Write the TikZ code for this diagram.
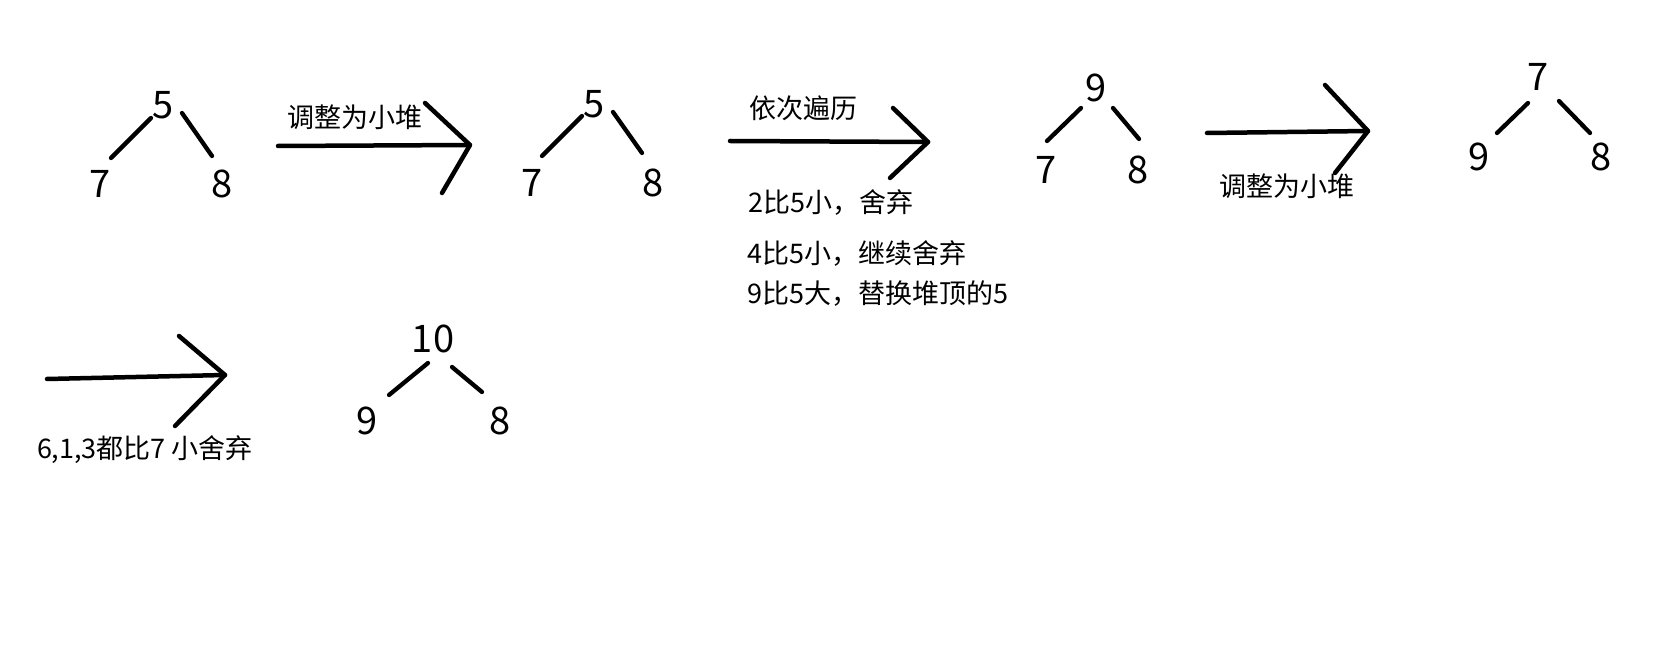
\documentclass[tikz,border=0pt]{standalone}
\usepackage{fontspec}
\setmainfont{Noto Sans CJK SC}
\usetikzlibrary{calc}
\begin{document}
\begin{tikzpicture}[x=1pt,y=-1pt,
  num/.style={inner sep=0pt,font=\fontsize{38}{40}\selectfont},
  lbl/.style={inner sep=0pt,font=\fontsize{27}{30}\selectfont},
  stroke/.style={line width=4.5pt,line cap=round,line join=round},
  edge/.style={line width=4.3pt,line cap=round}]
\fill[white] (0,0) rectangle (1658,660);
\path[use as bounding box] (0,0) rectangle (1658,660);

% Tree 1
\node[num] (t1r) at (163,105) {5};
\node[num] (t1l) at (100,184) {7};
\node[num] (t1c) at (222,184) {8};
\draw[edge] ($(t1r)+(-12,13)$) -- ($(t1l)+(11,-26)$);
\draw[edge] ($(t1r)+(19,8)$) -- ($(t1c)+(-10,-28)$);

% Arrow 1
\coordinate (a1s) at (278,146);
\coordinate (a1t) at (470,145);
\draw[stroke] (a1s) -- (a1t);
\draw[stroke] ($(a1t)+(-45,-42)$) -- (a1t) -- ($(a1t)+(-28,48)$);
\node[lbl] (a1l) at (355,117) {调整为小堆};

% Tree 2
\node[num] (t2r) at (594,104) {5};
\node[num] (t2l) at (532,183) {7};
\node[num] (t2c) at (653,183) {8};
\draw[edge] ($(t2r)+(-12,12)$) -- ($(t2l)+(10,-27)$);
\draw[edge] ($(t2r)+(19,8)$) -- ($(t2c)+(-11,-30)$);

% Arrow 2
\coordinate (a2s) at (730,141);
\coordinate (a2t) at (928,142);
\draw[stroke] (a2s) -- (a2t);
\draw[stroke] ($(a2t)+(-35,-34)$) -- (a2t) -- ($(a2t)+(-38,36)$);
\node[lbl] (a2l) at (803,108) {依次遍历};
\node[lbl,anchor=west] (n1) at (748,202) {2比5小，舍弃};
\node[lbl,anchor=west] (n2) at (747,253) {4比5小，继续舍弃};
\node[lbl,anchor=west] (n3) at (747,294) {9比5大，替换堆顶的5};

% Tree 3
\node[num] (t3r) at (1096,88) {9};
\node[num] (t3l) at (1046,170) {7};
\node[num] (t3c) at (1138,170) {8};
\draw[edge] ($(t3r)+(-15,20)$) -- ($(t3l)+(1,-29)$);
\draw[edge] ($(t3r)+(17,20)$) -- ($(t3c)+(1,-31)$);

% Arrow 3
\coordinate (a3s) at (1207,133);
\coordinate (a3t) at (1368,131);
\draw[stroke] (a3s) -- (a3t);
\draw[stroke] ($(a3t)+(-43,-46)$) -- (a3t) -- ($(a3t)+(-33,42)$);
\node[lbl] (a3l) at (1287,186) {调整为小堆};

% Tree 4
\node[num] (t4r) at (1538,77) {7};
\node[num] (t4l) at (1479,157) {9};
\node[num] (t4c) at (1601,157) {8};
\draw[edge] ($(t4r)+(-10,26)$) -- ($(t4l)+(18,-24)$);
\draw[edge] ($(t4r)+(21,24)$) -- ($(t4c)+(-11,-24)$);

% Arrow 4
\coordinate (a4s) at (47,379);
\coordinate (a4t) at (225,375);
\draw[stroke] (a4s) -- (a4t);
\draw[stroke] ($(a4t)+(-46,-39)$) -- (a4t) -- ($(a4t)+(-50,51)$);
\node[lbl] (a4l) at (145,450) {6,1,3都比7 小舍弃};

% Tree 5
\node[num] (t5r) at (433,339) {10};
\node[num] (t5l) at (367,421) {9};
\node[num] (t5c) at (500,421) {8};
\draw[edge] ($(t5r)+(-5,24)$) -- ($(t5l)+(22,-26)$);
\draw[edge] ($(t5r)+(19,28)$) -- ($(t5c)+(-18,-29)$);
\end{tikzpicture}
\end{document}
